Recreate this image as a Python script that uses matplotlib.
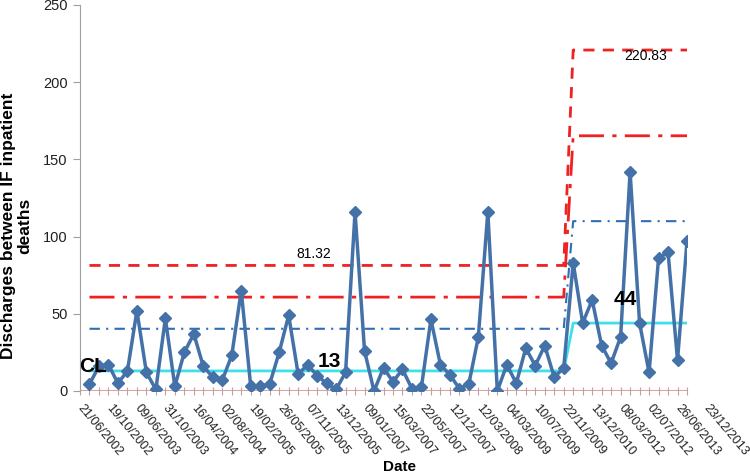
import matplotlib
import matplotlib.pyplot as plt
import numpy as np

matplotlib.use('Agg')
plt.rcParams['font.family'] = ['Liberation Sans', 'DejaVu Sans']

# discharges between inpatient deaths, one value per death (in order)
discharges = [4.5, 16, 17, 5, 13, 52, 12, 1, 47, 3, 25, 37, 16, 9, 7, 23,
              65, 3, 3, 4.5, 25, 49, 11, 17, 10, 5, 1, 12, 116, 26, 0, 15,
              6, 14, 1.5, 2.6, 46.5, 17, 10.5, 1.5, 4.7, 35, 116, 0, 17, 5,
              27.7, 16.5, 29.4, 9, 14.8, 83, 44, 59, 29.4, 18, 35, 142, 44,
              12, 86, 90, 20, 97]

# control limits for the two phases (phase 1 ends at point 51)
phase_split = 51
cl_vals = (13, 44)
sigma1_vals = (40.3, 110)
sigma2_vals = (60.8, 165.3)
ucl_vals = (81.32, 220.83)

date_labels = ['21/06/2002', '19/10/2002', '09/06/2003', '31/10/2003',
               '16/04/2004', '02/08/2004', '19/02/2005', '26/05/2005',
               '07/11/2005', '13/12/2005', '09/01/2007', '15/03/2007',
               '22/05/2007', '12/12/2007', '12/03/2008', '04/03/2009',
               '10/07/2009', '22/11/2009', '13/12/2010', '08/03/2012',
               '02/07/2012', '26/06/2013', '23/12/2013']

n = len(discharges)
x = np.arange(1, n + 1)


def limit_series(vals):
    return [vals[0] if i <= phase_split else vals[1] for i in x]


fig = plt.figure(figsize=(7.5, 4.74), dpi=100)
ax = fig.add_axes([80 / 750, 1 - 391 / 474, 607 / 750, 386 / 474])

ax.axhline(0, color='#d9a3a3', lw=1.5, zorder=1)
ax.plot(x, limit_series(ucl_vals), color='#ee2222', lw=2, dashes=(4, 3), zorder=2)
ax.plot(x, limit_series(sigma2_vals), color='#ee2222', lw=2,
        dashes=(9, 3, 1.5, 3), zorder=2)
ax.plot(x, limit_series(sigma1_vals), color='#2f6db5', lw=1.5,
        dashes=(5, 3, 1, 3), zorder=2)
ax.plot(x, limit_series(cl_vals), color='#3ee0ea', lw=2, zorder=3)
ax.plot(x, discharges, color='#4472a8', lw=2.5, marker='D', ms=6.5,
        zorder=4)

ax.text(24.6, 84, '81.32', fontsize=10, ha='center', va='bottom')
ax.text(59.6, 217, '220.83', fontsize=10, ha='center', va='center')
ax.text(-0.1, 16, 'CL', fontsize=15, fontweight='bold', ha='left',
        va='center', zorder=6)
ax.text(26.3, 19.4, '13', fontsize=15, fontweight='bold', ha='center',
        va='center', zorder=6)
ax.text(57.5, 59, '44', fontsize=15, fontweight='bold', ha='center',
        va='center', zorder=6)

ax.set_xlim(0, n)
ax.set_ylim(0, 250)
ax.set_yticks(np.arange(0, 251, 50))
ax.set_xticks(np.arange(0, n + 1), labels=[])
ax.tick_params(axis='x', direction='inout', length=6, color='#c0a0a0')
ax.tick_params(axis='y', direction='out', length=5, color='#a0a0a0',
               labelsize=10.5, labelcolor='#202020', pad=4)

for i, lab in enumerate(date_labels):
    ax.annotate(lab, xy=(i * 3, 0), xycoords=('data', 'axes fraction'),
                xytext=(0, -15), textcoords='offset pixels', rotation=-50,
                rotation_mode='anchor', ha='left', va='center',
                fontsize=9, color='#202020', annotation_clip=False)

for side in ('top', 'right'):
    ax.spines[side].set_visible(False)
ax.spines['bottom'].set_visible(False)
ax.spines['left'].set_color('#a0a0a0')

fig.text(0.022, 1 - 226 / 474, 'Discharges between IF inpatient\ndeaths',
         rotation=90, ha='center', va='center', multialignment='center',
         fontsize=12.5, fontweight='bold', linespacing=1.1)
fig.text(400 / 750, 1 - 467 / 474, 'Date', ha='center', va='center',
         fontsize=11, fontweight='bold')

fig.savefig('out.png', dpi=100)
